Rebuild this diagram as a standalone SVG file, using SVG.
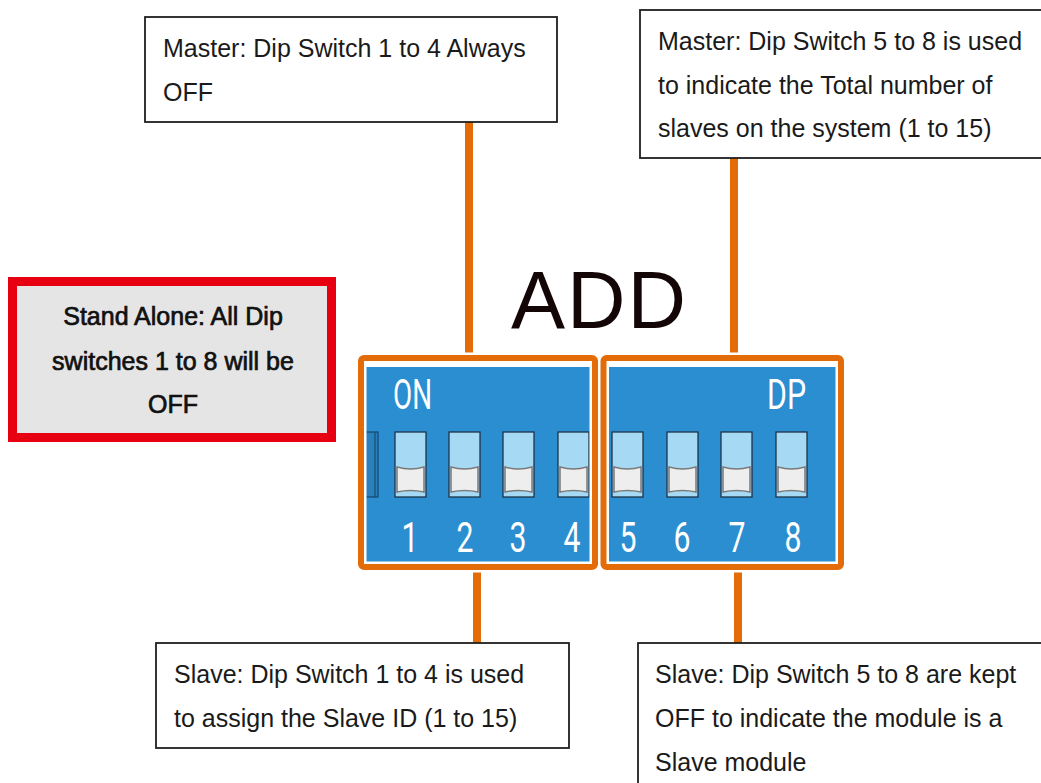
<svg xmlns="http://www.w3.org/2000/svg" width="1041" height="783" viewBox="0 0 1041 783">
<defs>
<style>
.lbl{font-family:"Liberation Sans",Arial,sans-serif;font-size:25px;fill:#1a1a1a}
.box{fill:#ffffff;stroke:#1f1f1f;stroke-width:1.8}
.conn{stroke:#e36c09;stroke-width:8;fill:none}
.ob{fill:none;stroke:#e36c09;stroke-width:6}
.obw{fill:none;stroke:#ffffff;stroke-width:11}
.dig{font-family:Roboto,"Liberation Sans",sans-serif;font-size:42px;fill:#ffffff;text-anchor:middle}
.sa{font-family:"Liberation Sans",Arial,sans-serif;font-size:25px;fill:#111;stroke:#111;stroke-width:0.7;text-anchor:middle}
</style>
<g id="sw">
<rect x="0" y="0" width="31" height="65" fill="#a6d9f4" stroke="#1c3448" stroke-width="1.3"/>
<path d="M2,35 Q15.5,39 29,35 L29,60 Q15.5,57 2,60 Z" fill="#eeeeee" stroke="#7a7a7a" stroke-width="1.5"/>
</g>
</defs>
<rect width="1041" height="783" fill="#ffffff"/>

<g id="connectors">
<line class="conn" x1="469" y1="117" x2="469" y2="358"/>
<line class="conn" x1="734" y1="158" x2="734" y2="358"/>
<line class="conn" x1="477" y1="567" x2="477" y2="647"/>
<line class="conn" x1="738" y1="567" x2="738" y2="647"/>
</g>

<g id="add-title">
<text x="511" y="328" font-family="'Liberation Sans',Arial,sans-serif" font-size="81" fill="#140606" letter-spacing="2">ADD</text>
</g>

<g id="dip-switch">
<rect x="366" y="367" width="471" height="195" fill="#2a8ed0"/>
<rect x="365" y="432" width="13" height="65" fill="#2a7fbd" stroke="#164c74" stroke-width="1.3"/>
<line x1="375" y1="432" x2="375" y2="497" stroke="#164c74" stroke-width="1.2"/>
<use href="#sw" x="395" y="432"/>
<use href="#sw" x="449" y="432"/>
<use href="#sw" x="503" y="432"/>
<use href="#sw" x="558" y="432"/>
<use href="#sw" x="612" y="432"/>
<use href="#sw" x="667" y="432"/>
<use href="#sw" x="721" y="432"/>
<use href="#sw" x="776" y="432"/>
<text x="393" y="409" font-family="Roboto,'Liberation Sans',sans-serif" font-size="43" fill="#ffffff" textLength="39" lengthAdjust="spacingAndGlyphs">ON</text>
<text x="767" y="409" font-family="Roboto,'Liberation Sans',sans-serif" font-size="43" fill="#ffffff" textLength="39" lengthAdjust="spacingAndGlyphs">DP</text>
<g transform="translate(410,552) scale(0.72,1)"><text class="dig" x="0" y="0">1</text></g>
<g transform="translate(465,552) scale(0.72,1)"><text class="dig" x="0" y="0">2</text></g>
<g transform="translate(518,552) scale(0.72,1)"><text class="dig" x="0" y="0">3</text></g>
<g transform="translate(572,552) scale(0.72,1)"><text class="dig" x="0" y="0">4</text></g>
<g transform="translate(628,552) scale(0.72,1)"><text class="dig" x="0" y="0">5</text></g>
<g transform="translate(682,552) scale(0.72,1)"><text class="dig" x="0" y="0">6</text></g>
<g transform="translate(737,552) scale(0.72,1)"><text class="dig" x="0" y="0">7</text></g>
<g transform="translate(793,552) scale(0.72,1)"><text class="dig" x="0" y="0">8</text></g>
</g>

<g id="group-left">
<rect class="obw" x="361" y="358" width="234" height="209" rx="3"/>
<rect class="ob" x="361" y="358" width="234" height="209" rx="3"/>
</g>
<g id="group-right">
<rect class="obw" x="603.5" y="358" width="237.5" height="209" rx="3"/>
<rect class="ob" x="603.5" y="358" width="237.5" height="209" rx="3"/>
</g>

<g id="master-1-4">
<rect class="box" x="145" y="17" width="412" height="105"/>
<text class="lbl" x="163" y="57">Master: Dip Switch 1 to 4 Always</text>
<text class="lbl" x="163" y="101">OFF</text>
</g>

<g id="master-5-8">
<rect class="box" x="640" y="10" width="402" height="148"/>
<text class="lbl" x="658" y="50">Master: Dip Switch 5 to 8 is used</text>
<text class="lbl" x="658" y="94">to indicate the Total number of</text>
<text class="lbl" x="658" y="137">slaves on the system (1 to 15)</text>
</g>

<g id="slave-1-4">
<rect class="box" x="156" y="643" width="413" height="105"/>
<text class="lbl" x="174" y="683">Slave: Dip Switch 1 to 4 is used</text>
<text class="lbl" x="174" y="727">to assign the Slave ID (1 to 15)</text>
</g>

<g id="slave-5-8">
<rect class="box" x="638" y="643" width="405" height="150"/>
<text class="lbl" x="655" y="683">Slave: Dip Switch 5 to 8 are kept</text>
<text class="lbl" x="655" y="727">OFF to indicate the module is a</text>
<text class="lbl" x="655" y="771">Slave module</text>
</g>

<g id="stand-alone">
<rect x="12.5" y="281.5" width="319" height="156" fill="#e5e5e5" stroke="#e60012" stroke-width="9"/>
<text class="sa" x="173" y="325">Stand Alone: All Dip</text>
<text class="sa" x="173" y="370">switches 1 to 8 will be</text>
<text class="sa" x="173" y="413">OFF</text>
</g>
</svg>
